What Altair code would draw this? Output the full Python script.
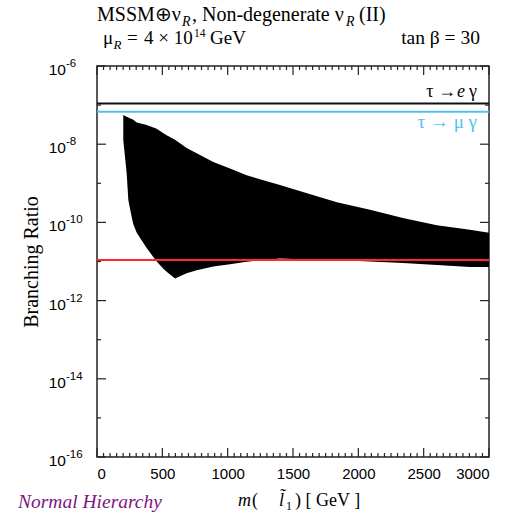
import altair as alt
import pandas as pd

# ---------------- data ----------------
# scatter cloud envelope (m in GeV, upper / lower branching ratio)
cloud_m = [201, 227, 240, 265, 278, 304, 380, 457, 508, 533, 597, 635, 686, 763, 890,
           1018, 1145, 1273, 1400, 1576, 1836, 2089, 2341, 2601, 2854, 3000]
cloud_hi = [5.6e-8, 5.0e-8, 4.8e-8, 4.4e-8, 4.2e-8, 3.6e-8, 3.1e-8, 2.5e-8, 1.9e-8, 1.7e-8,
            1.3e-8, 1.05e-8, 8.0e-9, 5.9e-9, 3.5e-9, 2.4e-9, 1.6e-9, 1.2e-9, 9.1e-10,
            6.0e-10, 3.3e-10, 2.1e-10, 1.3e-10, 8.5e-11, 6.5e-11, 5.4e-11]
cloud_lo = [1.3e-8, 1.8e-9, 3.7e-10, 1.4e-10, 9.0e-11, 5.4e-11, 2.2e-11, 1.0e-11, 6.5e-12,
            5.5e-12, 3.7e-12, 4.2e-12, 5.0e-12, 6.0e-12, 7.4e-12, 8.5e-12, 9.8e-12, 1.1e-11,
            1.2e-11, 1.15e-11, 1.1e-11, 1.0e-11, 9.1e-12, 8.1e-12, 7.2e-12, 7.2e-12]

# experimental bounds
bound_names = ["tau_e_gamma", "tau_mu_gamma", "red"]
bound_vals = [1.1e-7, 6.8e-8, 1.1e-11]
bound_cols = ["#111111", "#4FC3EE", "#FF2A2A"]

x_labels = [0, 500, 1000, 1500, 2000, 2500, 3000]
y_label_vals = [1e-6, 1e-8, 1e-10, 1e-12, 1e-14, 1e-16]
y_label_exp = ["-6", "-8", "-10", "-12", "-14", "-16"]
y_minor_vals = [1e-7, 1e-9, 1e-11, 1e-13, 1e-15]
x_minor_vals = [v for v in range(50, 3000, 50) if v % 500 != 0]

W, H = 392, 391
SERIF = "Liberation Serif"
SANS = "Liberation Sans"

XS = alt.Scale(domain=[0, 3000], nice=False, zero=False)
YS = alt.Scale(type="log", domain=[1e-16, 1e-6], nice=False)
XAX = alt.Axis(values=x_labels, title=None, ticks=False, tickSize=0, domain=False,
               grid=False, labelFont=SANS, labelFontSize=15, labelColor="black",
               labelPadding=9, format="d")

cloud_df = pd.DataFrame({"m": cloud_m, "hi": cloud_hi, "lo": cloud_lo})
cloud = alt.Chart(cloud_df).mark_area(color="black", opacity=1, interpolate="linear").encode(
    x=alt.X("m:Q", scale=XS, axis=XAX),
    y=alt.Y("hi:Q", scale=YS, axis=None),
    y2="lo:Q",
)

bounds_df = pd.DataFrame({"name": bound_names, "v": bound_vals, "c": bound_cols})
bounds = alt.Chart(bounds_df).mark_rule(strokeWidth=2).encode(
    y=alt.Y("v:Q", scale=YS, axis=None),
    color=alt.Color("c:N", scale=None),
)

layers = [cloud, bounds]


def xticks(vals, L):
    d = pd.DataFrame({"m": vals})
    b = alt.Chart(d).mark_rule(color="#222", strokeWidth=1.2).encode(
        x=alt.X("m:Q", scale=XS, axis=XAX), y=alt.value(H), y2=alt.value(H - L))
    t = alt.Chart(d).mark_rule(color="#222", strokeWidth=1.2).encode(
        x=alt.X("m:Q", scale=XS, axis=XAX), y=alt.value(0), y2=alt.value(L))
    return [b, t]


def yticks(vals, L):
    d = pd.DataFrame({"v": vals})
    l = alt.Chart(d).mark_rule(color="#222", strokeWidth=1.2).encode(
        y=alt.Y("v:Q", scale=YS, axis=None), x=alt.value(0), x2=alt.value(L))
    r = alt.Chart(d).mark_rule(color="#222", strokeWidth=1.2).encode(
        y=alt.Y("v:Q", scale=YS, axis=None), x=alt.value(W), x2=alt.value(W - L))
    return [l, r]


layers += xticks(x_labels, 9) + xticks(x_minor_vals, 4)
layers += yticks(y_label_vals, 9) + yticks(y_minor_vals, 4)

# y tick labels 10^n
ylab_df = pd.DataFrame({"v": y_label_vals, "e": y_label_exp, "b": ["10"] * len(y_label_vals)})
layers.append(alt.Chart(ylab_df).mark_text(font=SANS, fontSize=15.5, align="right",
                                           baseline="alphabetic", dy=9, color="black").encode(
    y=alt.Y("v:Q", scale=YS, axis=None), x=alt.value(-31), text="b:N"))
layers.append(alt.Chart(ylab_df).mark_text(font=SANS, fontSize=11.5, align="left",
                                           baseline="alphabetic", dy=1, color="black").encode(
    y=alt.Y("v:Q", scale=YS, axis=None), x=alt.value(-31), text="e:N"))


def txt(s, x, y, size=20, style="normal", color="black", align="left", angle=0, font=SERIF):
    d = pd.DataFrame({"t": [s]})
    kw = dict(font=font, fontSize=size, fontStyle=style, color=color, align=align,
              baseline="alphabetic")
    if angle:
        kw["angle"] = angle
        kw["baseline"] = "middle"
        kw["align"] = "center"
    return alt.Chart(d).mark_text(**kw).encode(text="t:N", x=alt.value(x), y=alt.value(y))


# title line 1
layers += [
    txt("MSSM⊕ν", 0, -45),
    txt("R", 85, -40.5, size=14, style="italic"),
    txt(", Non-degenerate ν", 95, -45),
    txt("R", 249, -40.5, size=14, style="italic"),
    txt("(II)", 262, -45),
]
# title line 2
layers += [
    txt("μ", 6, -22, size=19),
    txt("R", 16.5, -17, size=13, style="italic"),
    txt("=", 30, -22, size=19),
    txt("4 × 10", 47, -22, size=19),
    txt("14", 97, -29, size=11.5),
    txt("GeV", 113, -22, size=19),
    txt("tan β = 30", 383, -22, size=19.5, align="right"),
]
# bound labels
layers += [
    txt("γ", 380, 31, size=18, align="right"),
    txt("e", 368, 31, size=18, style="italic", align="right"),
    txt("τ →", 359, 31, size=18, align="right"),
    txt("τ → μ γ", 380, 62, size=19, color="#4FC3EE", align="right"),
]
# axis titles and notes
layers += [
    txt("Branching Ratio", -65, 196, size=20, angle=270),
    txt("Normal Hierarchy", -79, 442, size=19.5, style="italic", color="#7E1483"),
    txt("m", 141, 440, size=18, style="italic"),
    txt("(", 155, 440, size=18),
    txt("l̃", 182, 440, size=18, style="italic"),
    txt("1", 189, 444, size=12),
    txt(") [ GeV ]", 198, 440, size=18),
]

chart = alt.layer(*layers).properties(
    width=W, height=H,
    autosize=alt.AutoSizeParams(type="none"),
    padding={"left": 97, "top": 66, "right": 23, "bottom": 61},
).configure_view(stroke="#222", strokeWidth=1.5)

chart.save("out.html", embed_options={"renderer": "svg", "actions": False})
